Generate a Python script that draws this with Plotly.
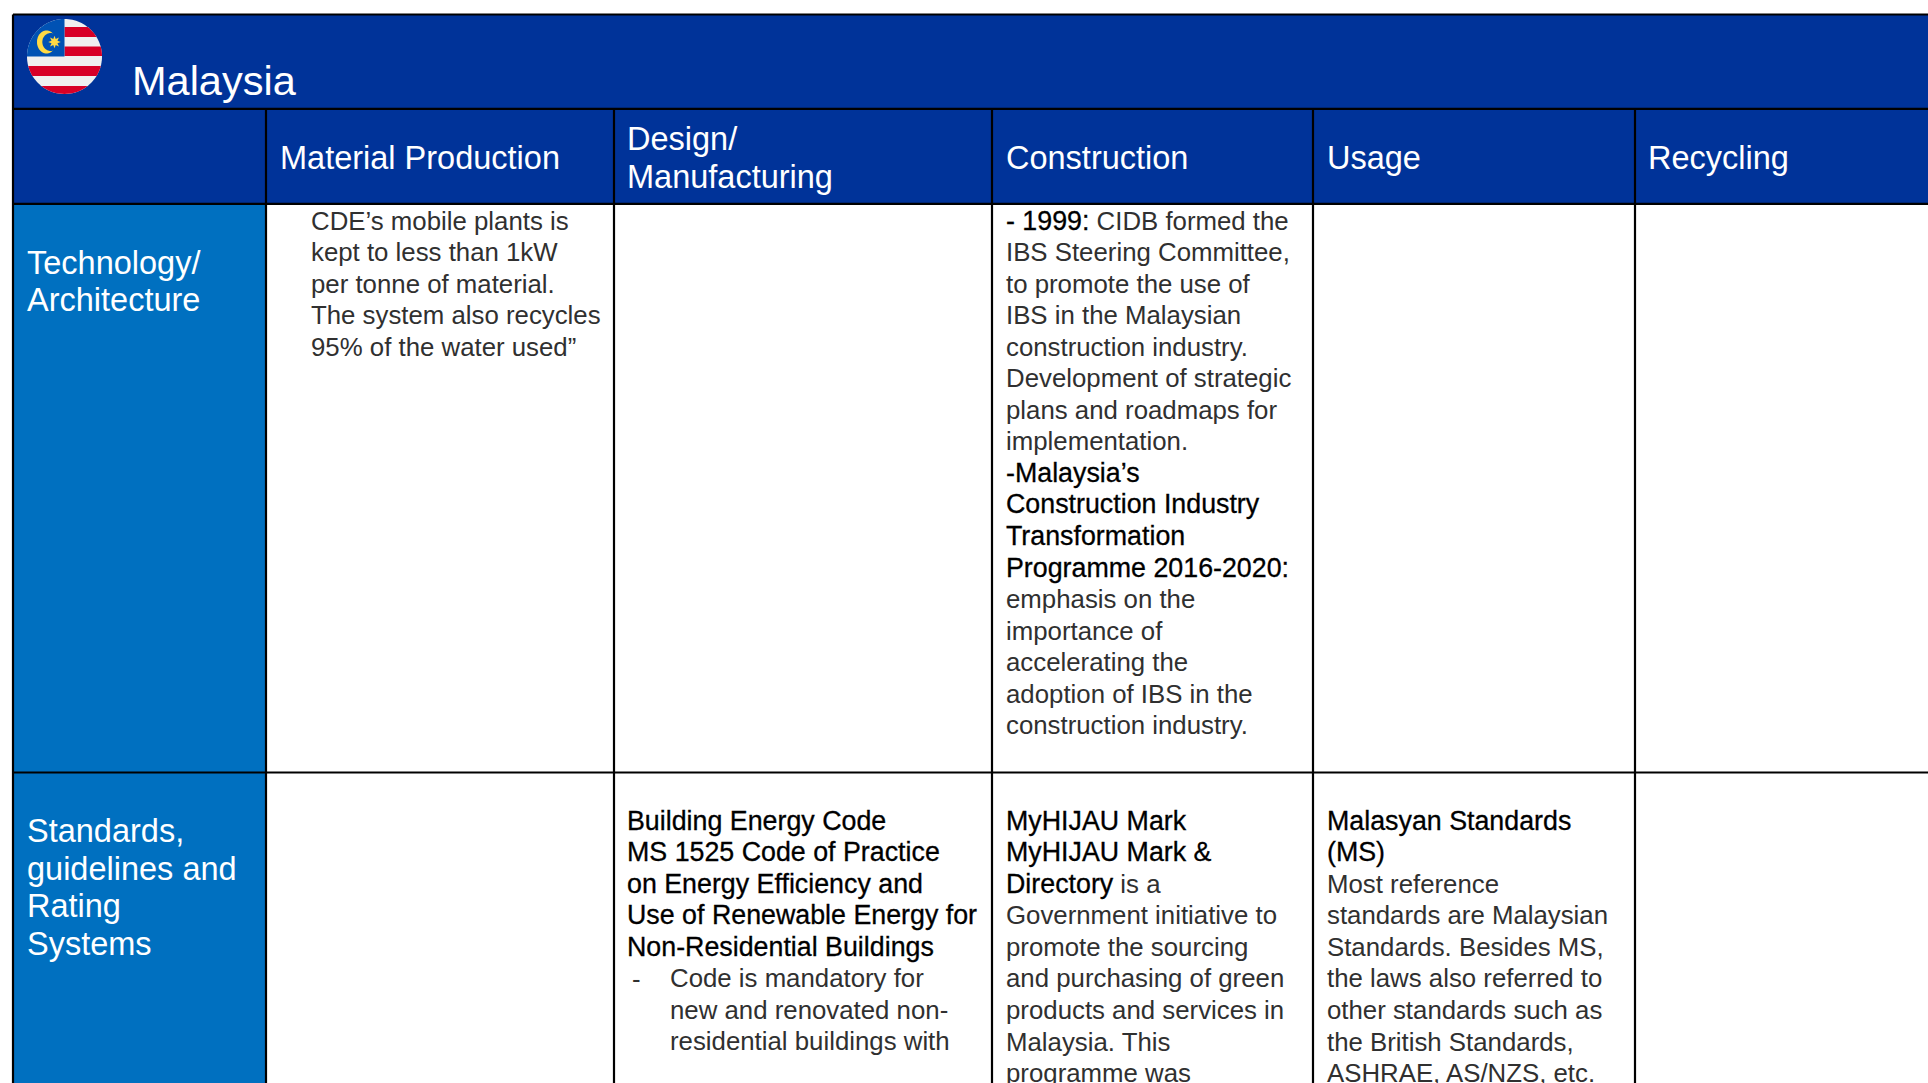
import numpy as np
import plotly.graph_objects as go

TITLE = "Malaysia"
COLUMN_HEADERS = ["Material Production", "Design/<br>Manufacturing", "Construction", "Usage", "Recycling"]
ROW_HEADERS = [["Technology/", "Architecture"], ["Standards,", "guidelines and", "Rating", "Systems"]]

# Lines of cell text. [[...]] marks the stronger run-in text.
MATERIAL_TECH = ["CDE’s mobile plants is", "kept to less than 1kW", "per tonne of material.",
                 "The system also recycles", "95% of the water used”"]
CONSTRUCTION_TECH = ["[[- 1999:]] CIDB formed the", "IBS Steering Committee,", "to promote the use of",
                     "IBS in the Malaysian", "construction industry.", "Development of strategic",
                     "plans and roadmaps for", "implementation.", "[[-Malaysia’s]]",
                     "[[Construction Industry]]", "[[Transformation]]", "[[Programme 2016-2020:]]",
                     "emphasis on the", "importance of", "accelerating the", "adoption of IBS in the",
                     "construction industry."]
DESIGN_STD = ["[[Building Energy Code]]", "[[MS 1525 Code of Practice]]", "[[on Energy Efficiency and]]",
              "[[Use of Renewable Energy for]]", "[[Non-Residential Buildings]]"]
DESIGN_STD_BULLET = ["Code is mandatory for", "new and renovated non-", "residential buildings with"]
CONSTRUCTION_STD = ["[[MyHIJAU Mark]]", "[[MyHIJAU Mark &]]", "[[Directory]] is a", "Government initiative to",
                    "promote the sourcing", "and purchasing of green", "products and services in",
                    "Malaysia. This", "programme was"]
USAGE_STD = ["[[Malasyan Standards]]", "[[(MS)]]", "Most reference", "standards are Malaysian",
             "Standards. Besides MS,", "the laws also referred to", "other standards such as",
             "the British Standards,", "ASHRAE, AS/NZS, etc."]

W, H = 1928, 1083
DARK, MID, INK = "#003399", "#0070c0", "#303030"
STRONG_CSS = "color:#000;font-size:26.8px;stroke:#000;stroke-width:0.3px"
FONT = "Liberation Sans"
BODY, HEAD, LEAD = 25.8, 32.5, 31.55
V_LINES = [13, 266, 614, 992, 1313, 1635]
Y_TOP, Y_H1, Y_H2, Y_R1 = 14.5, 108.8, 203.8, 772.5

fig = go.Figure()
shapes, notes = [], []


def rect(x0, y0, x1, y1, color):
    shapes.append(dict(type="rect", x0=x0, y0=y0, x1=x1, y1=y1, fillcolor=color, line_width=0, layer="below"))


def line(x0, y0, x1, y1, w=2.2):
    shapes.append(dict(type="line", x0=x0, y0=y0, x1=x1, y1=y1, line=dict(color="#000", width=w), layer="below"))


def poly(pts, color):
    d = "M" + "L".join(f"{a:.2f},{b:.2f}" for a, b in pts) + "Z"
    shapes.append(dict(type="path", path=d, fillcolor=color, line_width=0, layer="below"))


def text(x, y, s, size=BODY, color=INK):
    s = s.replace("[[", f"<span style='{STRONG_CSS}'>").replace("]]", "</span>")
    notes.append(dict(x=x, y=y, text=s, xref="x", yref="y", xanchor="left", yanchor="middle", showarrow=False,
                      align="left", borderpad=0, font=dict(family=FONT, size=size, color=color)))


def column(x, y0, lines):
    for i, s in enumerate(lines):
        text(x, y0 + i * LEAD, s)


# Backgrounds
rect(13, Y_TOP, W, Y_H2, DARK)
rect(13, Y_H2, V_LINES[1], H, MID)

# Grid
line(V_LINES[0], Y_TOP, V_LINES[0], H)
line(13, Y_TOP, W, Y_TOP)
line(13, Y_H1, W, Y_H1)
line(13, Y_H2, W, Y_H2)
line(13, Y_R1, W, Y_R1)
for vx in V_LINES[1:]:
    line(vx, Y_H1, vx, H)

# Flag
cx, cy, r = 64.5, 56.5, 37.5
t = np.linspace(0, 2 * np.pi, 121)
poly(np.c_[cx + r * np.cos(t), cy + r * np.sin(t)], "#f0f0f0")
for y0, y1 in [(27, 37), (46.5, 56), (66, 76), (86, 94)]:
    ys = np.linspace(y0, min(y1, cy + r), 20)
    half = np.sqrt(np.maximum(r**2 - (ys - cy) ** 2, 0))
    xl = np.where(y1 <= cy, cx, cx - half)
    poly(list(zip(xl, ys)) + list(zip((cx + half)[::-1], ys[::-1])), "#d80027")
a = np.linspace(np.pi, 1.5 * np.pi, 40)
poly([(cx, cy)] + list(zip(cx + r * np.cos(a), cy + r * np.sin(a))), "#0052b4")
a = np.linspace(0, 2 * np.pi, 61)
poly(np.c_[46.5 + 9.5 * np.cos(a), 42 + 11.5 * np.sin(a)], "#ffda44")
poly(np.c_[50.8 + 8.5 * np.cos(a), 42 + 9 * np.sin(a)], "#0052b4")
a = np.linspace(0, 2 * np.pi, 17)
rad = np.where(np.arange(17) % 2 == 0, 6.3, 3.2)
poly(np.c_[54.5 + rad * np.sin(a), 42 - rad * np.cos(a)], "#ffda44")

# Headers
text(131, 80.3, TITLE, 41.5, "#ffffff")
for x, s in zip([279, 626, 1005, 1326, 1647], COLUMN_HEADERS):
    parts = s.split("<br>")
    for i, p in enumerate(parts):
        yy = 157.5 if len(parts) == 1 else 139 + i * 37.5
        text(x, yy, p, HEAD, "#ffffff")
for i, s in enumerate(ROW_HEADERS[0]):
    text(25.8, 262.5 + i * 37.7, s, HEAD, "#ffffff")
for i, s in enumerate(ROW_HEADERS[1]):
    text(25.8, 831 + i * 37.7, s, HEAD, "#ffffff")

# Cells
column(310, 220.5, MATERIAL_TECH)
column(1005, 220.5, CONSTRUCTION_TECH)
column(626, 820.7, DESIGN_STD)
text(631, 978.5, "-")
column(669, 978.3, DESIGN_STD_BULLET)
column(1005, 820.7, CONSTRUCTION_STD)
column(1326, 820.7, USAGE_STD)

fig.update_layout(width=W, height=H, margin=dict(l=0, r=0, t=0, b=0), paper_bgcolor="#fff", plot_bgcolor="#fff",
                  shapes=shapes, annotations=notes, showlegend=False,
                  xaxis=dict(range=[0, W], visible=False, fixedrange=True),
                  yaxis=dict(range=[H, 0], visible=False, fixedrange=True))
fig.write_html("out.html", config={"displayModeBar": False},
               post_script="document.body.style.margin='0';document.body.style.overflow='hidden';")
